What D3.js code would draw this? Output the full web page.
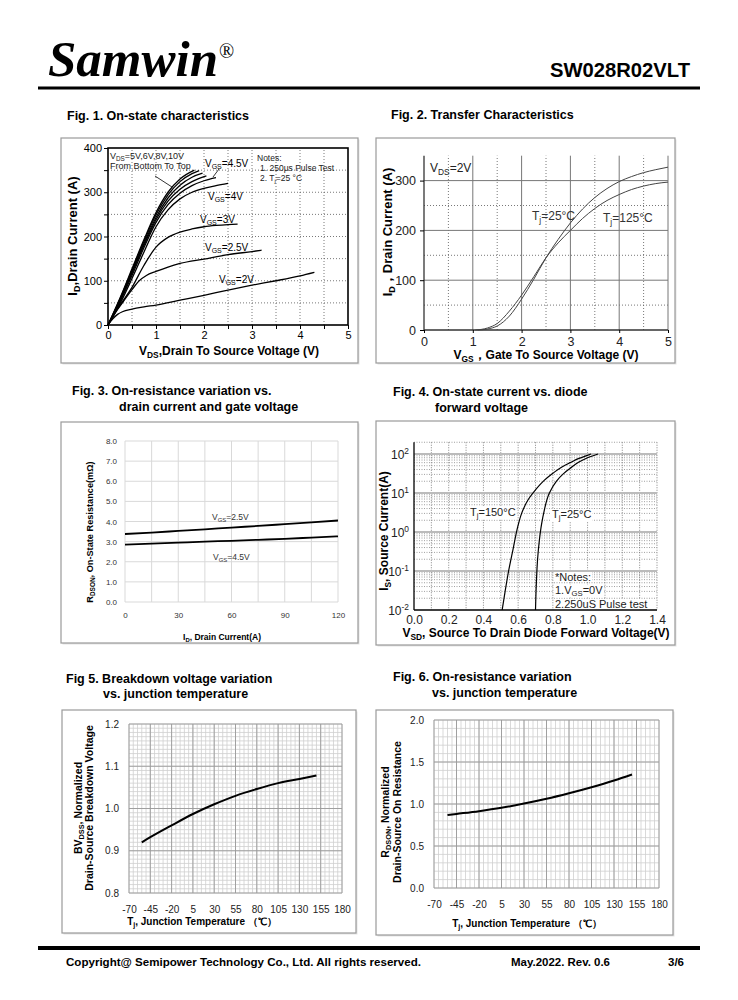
<!DOCTYPE html>
<html><head><meta charset="utf-8">
<script src="https://cdn.jsdelivr.net/npm/d3@7"></script>
<style>body{margin:0;background:#fff}svg{display:block;font-family:"Liberation Sans",Arial,sans-serif}</style>
</head><body><svg id="c" width="738" height="1000"></svg>
<script>
// ---------- DATA ----------
// Fig.1 On-state characteristics: [VDS (V), ID (A)]
const fig1Vgs2  = [[0,0],[0.1,14],[0.2,24],[0.3,30],[0.5,36],[0.75,41],[1,45],[1.5,56],[2,67],[2.5,79],[3,90],[3.5,100],[4,111],[4.3,119]];
const fig1Vgs25 = [[0,0],[0.1,18],[0.2,35],[0.35,58],[0.5,80],[0.65,100],[0.8,112],[1,121],[1.25,131],[1.5,139],[2,149],[2.5,159],[3,166],[3.2,169]];
const fig1Vgs3  = [[0,0],[0.1,20],[0.25,45],[0.5,85],[0.75,135],[1,176],[1.25,198],[1.5,210],[1.75,217],[2,222],[2.25,225],[2.5,227],[2.7,228]];
const fig1Vgs4  = [[0,0],[0.25,48],[0.5,105],[0.75,165],[1,222],[1.25,260],[1.5,285],[1.75,300],[2,309],[2.25,315],[2.5,320]];
const fig1Vgs45 = [[0,0],[0.25,52],[0.5,112],[0.75,175],[1,232],[1.25,272],[1.5,298],[1.75,315],[2,326],[2.25,333]];
const fig1Vgs5  = [[0,0],[0.25,55],[0.5,117],[0.75,180],[1,238],[1.25,280],[1.5,307],[1.75,324],[2.05,337]];
const fig1Vgs6  = [[0,0],[0.25,57],[0.5,120],[0.75,184],[1,243],[1.25,287],[1.5,316],[1.75,334],[1.97,343]];
const fig1Vgs8  = [[0,0],[0.25,59],[0.5,124],[0.75,189],[1,249],[1.25,294],[1.5,324],[1.75,342],[1.9,349]];
const fig1Vgs10 = [[0,0],[0.25,61],[0.5,127],[0.75,193],[1,254],[1.25,300],[1.5,330],[1.8,350]];
const fig1XTicks = [0,1,2,3,4,5];
const fig1YTicks = [0,100,200,300,400];

// Fig.2 Transfer characteristics: [VGS (V), ID (A)]
const fig2T25  = [[1.1,0],[1.3,2],[1.5,8],[1.75,28],[2,62],[2.25,102],[2.5,145],[2.75,182],[3,215],[3.25,243],[3.5,266],[3.75,284],[4,298],[4.25,308],[4.5,316],[4.75,322],[5,327]];
const fig2T125 = [[1.05,0],[1.3,4],[1.5,13],[1.75,38],[2,70],[2.25,107],[2.5,145],[2.75,175],[3,200],[3.25,224],[3.5,244],[3.75,260],[4,272],[4.25,282],[4.5,289],[4.75,294],[5,297]];
const fig2XTicks = [0,1,2,3,4,5];
const fig2YTicks = [0,100,200,300];

// Fig.3 On-resistance vs drain current
const fig3Id    = [0,15,30,45,60,75,90,105,120];
const fig3Vgs25 = [3.38,3.45,3.53,3.61,3.70,3.78,3.87,3.96,4.05];
const fig3Vgs45 = [2.85,2.90,2.95,3.00,3.04,3.09,3.14,3.20,3.26];
const fig3XTicks = [0,30,60,90,120];
const fig3YTicks = [0,1,2,3,4,5,6,7,8];

// Fig.4 Diode forward: [VSD (V), IS (A)]
const fig4T150 = [[0.508,0.01],[0.525,0.03],[0.545,0.1],[0.57,0.35],[0.60,1.5],[0.62,3],[0.66,7],[0.70,12],[0.75,21],[0.80,32],[0.85,46],[0.90,60],[0.95,77],[1.0,92],[1.02,100]];
const fig4T25  = [[0.700,0.01],[0.705,0.05],[0.712,0.2],[0.722,0.6],[0.735,1.6],[0.75,3.5],[0.78,10],[0.82,20],[0.86,31],[0.90,43],[0.95,62],[1.0,80],[1.06,100]];
const fig4XTicks = [0,0.2,0.4,0.6,0.8,1.0,1.2,1.4];
const fig4YTicks = [0.01,0.1,1,10,100];

// Fig.5 / Fig.6 vs junction temperature
const tempTicks = [-70,-45,-20,5,30,55,80,105,130,155,180];
const fig5Tj = [-55,-45,-20,5,30,55,80,105,130,150];
const fig5Bv = [0.920,0.932,0.960,0.987,1.010,1.030,1.046,1.060,1.070,1.078];
const fig5YTicks = [0.8,0.9,1.0,1.1,1.2];
const fig6Tj = [-55,-45,-20,5,30,55,80,105,130,150];
const fig6R  = [0.869,0.882,0.915,0.955,1.005,1.062,1.128,1.200,1.280,1.352];
const fig6YTicks = [0,0.5,1.0,1.5,2.0];

// ---------- HELPERS ----------
const svg = d3.select("#c");
function rich(t, s, fs){
  const parts = s.split(/(_\{[^}]*\}|\^\{[^}]*\})/).filter(p=>p);
  let off = 0;
  parts.forEach(p=>{
    let target=0, tx=p, small=false;
    if(p.startsWith("_{")){target=fs*0.22; tx=p.slice(2,-1); small=true;}
    else if(p.startsWith("^{")){target=-fs*0.4; tx=p.slice(2,-1); small=true;}
    const ts = t.append("tspan").attr("dy", target-off).text(tx);
    if(small) ts.attr("font-size", fs*0.7);
    off = target;
  });
}
function txt(g,x,y,s,fs,o={}){
  const t = g.append("text").attr("x",x).attr("y",y).attr("font-size",fs).attr("fill",o.fill||"#000");
  if(o.bold) t.attr("font-weight","bold");
  if(o.anchor) t.attr("text-anchor",o.anchor);
  if(o.rot) t.attr("transform",`rotate(-90,${x},${y})`);
  if(o.family) t.attr("font-family",o.family);
  if(o.style) t.attr("font-style",o.style);
  if(o.len) t.attr("textLength",o.len).attr("lengthAdjust","spacingAndGlyphs");
  if(o.plain) t.text(s); else rich(t,s,fs);
  return t;
}
function box(g,x,y,w,h){
  g.append("rect").attr("x",x+1.5).attr("y",y+1.5).attr("width",w).attr("height",h).attr("fill","#e4e4e4");
  g.append("rect").attr("x",x).attr("y",y).attr("width",w).attr("height",h).attr("fill","#fff").attr("stroke","#9a9a9a").attr("stroke-width",1.2);
}
function vlines(g,vals,x,y1,y2,stroke,w,dash){
  g.append("g").selectAll("line").data(vals).join("line")
   .attr("x1",d=>x(d)).attr("x2",d=>x(d)).attr("y1",y1).attr("y2",y2)
   .attr("stroke",stroke).attr("stroke-width",w).attr("stroke-dasharray",dash||null);
}
function hlines(g,vals,y,x1,x2,stroke,w,dash){
  g.append("g").selectAll("line").data(vals).join("line")
   .attr("y1",d=>y(d)).attr("y2",d=>y(d)).attr("x1",x1).attr("x2",x2)
   .attr("stroke",stroke).attr("stroke-width",w).attr("stroke-dasharray",dash||null);
}
function styleAxis(a,fs,color){
  a.attr("font-size",fs).attr("font-family",null);
  a.select(".domain").remove();
  a.selectAll(".tick text").attr("fill",color||"#000");
  a.selectAll(".tick line").attr("stroke","#000");
}
const lineGen = (x,y,curve)=>d3.line().x(d=>x(d[0])).y(d=>y(d[1])).curve(curve||d3.curveMonotoneX);

// ---------- HEADER / FOOTER ----------
txt(svg,48,76,"Samwin",50,{bold:true,style:"italic",family:"'Liberation Serif','Times New Roman',serif",plain:true,len:170});
txt(svg,219,58,"®",20,{family:"'Liberation Serif',serif",plain:true});
txt(svg,690,77,"SW028R02VLT",20,{bold:true,anchor:"end",plain:true,len:140});
svg.append("line").attr("x1",38).attr("x2",700).attr("y1",88).attr("y2",88).attr("stroke","#000").attr("stroke-width",3);
svg.append("line").attr("x1",38).attr("x2",700).attr("y1",948).attr("y2",948).attr("stroke","#000").attr("stroke-width",4);
txt(svg,66,966,"Copyright@ Semipower Technology Co., Ltd. All rights reserved.",11.5,{bold:true,plain:true,len:355});
txt(svg,511,966,"May.2022. Rev. 0.6",11,{bold:true,plain:true,len:99});
txt(svg,668,966,"3/6",11,{bold:true,plain:true,len:16});

// ---------- FIG 1 ----------
{
  const g = svg.append("g");
  txt(g,67,120,"Fig. 1. On-state characteristics",12.5,{bold:true,plain:true});
  box(g,61,138,297,225);
  const x = d3.scaleLinear().domain([0,5]).range([108,348]);
  const y = d3.scaleLinear().domain([0,400]).range([325,148]);
  vlines(g,d3.range(0.5,5,0.5),x,y(0),y(400),"#555",0.8,"1,2");
  hlines(g,d3.range(50,400,50),y,x(0),x(5),"#555",0.8,"1,2");
  g.append("rect").attr("x",x(0)).attr("y",y(400)).attr("width",x(5)-x(0)).attr("height",y(0)-y(400)).attr("fill","none").attr("stroke","#000").attr("stroke-width",1.6);
  g.append("g").attr("transform",`translate(0,${y(0)})`)
    .call(d3.axisBottom(x).tickValues(d3.range(0,5.01,0.5)).tickFormat(d=>fig1XTicks.includes(d)?d:"").tickSize(4).tickPadding(2))
    .call(a=>styleAxis(a,11));
  g.append("g").attr("transform",`translate(${x(0)},0)`)
    .call(d3.axisLeft(y).tickValues(d3.range(0,401,50)).tickFormat(d=>fig1YTicks.includes(d)?d:"").tickSize(4).tickPadding(2))
    .call(a=>styleAxis(a,11));
  const series=[fig1Vgs2,fig1Vgs25,fig1Vgs3,fig1Vgs4,fig1Vgs45,fig1Vgs5,fig1Vgs6,fig1Vgs8,fig1Vgs10];
  g.append("g").selectAll("path").data(series).join("path").attr("d",lineGen(x,y)).attr("fill","none").attr("stroke","#000").attr("stroke-width",1.3);
  txt(g,110,159,"V_{DS}=5V,6V,8V,10V",9,{fill:"#222"});
  txt(g,110,169,"From Bottom To Top",9,{fill:"#222",plain:true});
  g.append("line").attr("x1",155).attr("y1",176).attr("x2",172).attr("y2",187).attr("stroke","#000").attr("stroke-width",0.8);
  txt(g,205,167,"V_{GS}=4.5V",10);
  g.append("line").attr("x1",219).attr("y1",169).attr("x2",213).attr("y2",177).attr("stroke","#000").attr("stroke-width",0.8);
  txt(g,257,161,"Notes:",8.5,{plain:true,fill:"#222"});
  txt(g,260,171,"1. 250μs  Pulse Test",8.5,{plain:true,fill:"#222"});
  txt(g,260,181,"2. T_{j}=25 °C",8.5,{fill:"#222"});
  txt(g,208,200,"V_{GS}=4V",10);
  txt(g,200,223,"V_{GS}=3V",10);
  txt(g,205,251,"V_{GS}=2.5V",10);
  txt(g,219,283,"V_{GS}=2V",10);
  txt(g,229,355,"V_{DS},Drain To Source Voltage (V)",12,{bold:true,anchor:"middle"});
  txt(g,77,236,"I_{D},Drain Current (A)",13,{bold:true,anchor:"middle",rot:true});
}

// ---------- FIG 2 ----------
{
  const g = svg.append("g");
  txt(g,391,119,"Fig. 2. Transfer Characteristics",12.5,{bold:true,plain:true});
  box(g,376,138,299,225);
  const x = d3.scaleLinear().domain([0,5]).range([424,668]);
  const y = d3.scaleLinear().domain([0,350]).range([330,155.7]);
  vlines(g,d3.range(0.5,5,1),x,y(0),y(350),"#555",0.8,"1,2");
  hlines(g,[50,150,250],y,x(0),x(5),"#555",0.8,"1,2");
  vlines(g,[1,2,3,4,5],x,y(0),y(350),"#777",1);
  hlines(g,[100,200,300],y,x(0),x(5),"#777",1);
  g.append("line").attr("x1",x(0)).attr("x2",x(0)).attr("y1",y(0)).attr("y2",y(350)).attr("stroke","#333").attr("stroke-width",1.3);
  g.append("line").attr("x1",x(0)).attr("x2",x(5)).attr("y1",y(0)).attr("y2",y(0)).attr("stroke","#333").attr("stroke-width",1.3);
  g.append("g").attr("transform",`translate(0,${y(0)})`)
    .call(d3.axisBottom(x).tickValues(fig2XTicks).tickFormat(d3.format("d")).tickSize(3).tickPadding(4)).call(a=>styleAxis(a,12.5,"#222"));
  g.append("g").attr("transform",`translate(${x(0)},0)`)
    .call(d3.axisLeft(y).tickValues(fig2YTicks).tickFormat(d3.format("d")).tickSize(4).tickPadding(4)).call(a=>styleAxis(a,12.5,"#222"));
  g.append("g").selectAll("path").data([fig2T25,fig2T125]).join("path").attr("d",lineGen(x,y)).attr("fill","none").attr("stroke","#444").attr("stroke-width",1);
  txt(g,430,172,"V_{DS}=2V",12,{fill:"#222"});
  txt(g,532,220,"T_{j}=25°C",12,{fill:"#333"});
  txt(g,603,222,"T_{j}=125°C",12,{fill:"#333"});
  txt(g,546,359,"V_{GS}，Gate To Source Voltage (V)",12,{bold:true,anchor:"middle"});
  txt(g,392,232,"I_{D}，Drain Current (A)",13,{bold:true,anchor:"middle",rot:true});
}

// ---------- FIG 3 ----------
{
  const g = svg.append("g");
  txt(g,72,395,"Fig. 3. On-resistance variation vs.",12.5,{bold:true,plain:true});
  txt(g,119,411,"drain current and gate voltage",12.5,{bold:true,plain:true});
  box(g,61,422,297,221);
  const x = d3.scaleLinear().domain([0,120]).range([125,338]);
  const y = d3.scaleLinear().domain([0,8]).range([602,441]);
  vlines(g,d3.range(0,121,15),x,y(0),y(8),"#d9d9d9",1);
  hlines(g,d3.range(0,8.01,1),y,x(0),x(120),"#d9d9d9",1);
  g.append("g").attr("transform",`translate(0,${y(0)+6})`)
    .call(d3.axisBottom(x).tickValues(fig3XTicks).tickFormat(d3.format("d")).tickSize(0).tickPadding(4)).call(a=>styleAxis(a,8,"#333"));
  g.append("g").attr("transform",`translate(${x(0)-6},0)`)
    .call(d3.axisLeft(y).tickValues(fig3YTicks).tickFormat(d3.format(".1f")).tickSize(0).tickPadding(2)).call(a=>styleAxis(a,8,"#333"));
  const ln = d3.line().x((d,i)=>x(fig3Id[i])).y(d=>y(d)).curve(d3.curveMonotoneX);
  g.append("g").selectAll("path").data([fig3Vgs25,fig3Vgs45]).join("path").attr("d",ln).attr("fill","none").attr("stroke","#000").attr("stroke-width",1.8);
  txt(g,212,520,"V_{GS}=2.5V",8.5,{fill:"#333"});
  txt(g,213,560,"V_{GS}=4.5V",8.5,{fill:"#333"});
  txt(g,222,640,"I_{D}, Drain Current(A)",8.5,{bold:true,anchor:"middle"});
  txt(g,93,532,"R_{DSON}, On-State Resistance(mΩ)",9.2,{bold:true,anchor:"middle",rot:true});
}

// ---------- FIG 4 ----------
{
  const g = svg.append("g");
  txt(g,393,396,"Fig. 4. On-state current vs. diode",12.5,{bold:true,plain:true});
  txt(g,435,412,"forward voltage",12.5,{bold:true,plain:true});
  box(g,376,421,299,224);
  const x = d3.scaleLinear().domain([0,1.4]).range([414,657]);
  const y = d3.scaleLog().domain([0.01,100]).range([610,454]);
  const top = y(200);
  const minors=[];
  [0.01,0.1,1,10,100].forEach(p=>{for(let k=2;k<=9;k++){ if(p*k<=200) minors.push(p*k);} });
  hlines(g,minors,y,x(0),x(1.4),"#777",0.7,"1,1.5");
  vlines(g,d3.range(0.1,1.41,0.1),x,top,y(0.01),"#666",0.8,"1,1.5");
  hlines(g,[0.1,1,10,100],y,x(0),x(1.4),"#bbb",2.2);
  g.append("line").attr("x1",x(0)).attr("x2",x(0)).attr("y1",top).attr("y2",y(0.01)).attr("stroke","#000").attr("stroke-width",1.3);
  g.append("line").attr("x1",x(0)).attr("x2",x(1.4)).attr("y1",y(0.01)).attr("y2",y(0.01)).attr("stroke","#000").attr("stroke-width",1.3);
  g.append("g").attr("transform",`translate(0,${y(0.01)})`)
    .call(d3.axisBottom(x).tickValues(fig4XTicks).tickFormat(d3.format(".1f")).tickSize(0).tickPadding(5)).call(a=>styleAxis(a,12,"#222"));
  const ya = g.append("g");
  ya.selectAll("text").data(fig4YTicks).join("text")
    .attr("x",x(0)-5).attr("y",d=>y(d)+5).attr("text-anchor","end").attr("font-size",12).attr("fill","#222")
    .each(function(d){ rich(d3.select(this),"10^{"+Math.round(Math.log10(d))+"}",12); });
  g.append("g").selectAll("path").data([fig4T150,fig4T25]).join("path").attr("d",lineGen(x,y,d3.curveMonotoneY)).attr("fill","none").attr("stroke","#000").attr("stroke-width",1.2);
  const labs=[[470,516,"T_{j}=150°C"],[552,518,"T_{j}=25°C"],[555,581,"*Notes:"],[555,594,"1.V_{GS}=0V"],[555,608,"2.250uS Pulse test"]];
  labs.forEach(l=>{
    const t=txt(g,l[0],l[1],l[2],11,{fill:"#222"});
    const b=t.node().getBBox();
    g.insert("rect",()=>t.node()).attr("x",b.x-1).attr("y",b.y+1).attr("width",b.width+2).attr("height",b.height-2).attr("fill","#fff");
  });
  txt(g,536,637,"V_{SD}, Source To Drain Diode Forward Voltage(V)",12,{bold:true,anchor:"middle"});
  txt(g,388,531,"I_{S}, Source Current(A)",12,{bold:true,anchor:"middle",rot:true});
}

// ---------- FIG 5 / FIG 6 ----------
function tempPanel(g,xr,yr,ydom,yMinorStep,yMajor,ts,vals){
  const x = d3.scaleLinear().domain([-70,180]).range(xr);
  const y = d3.scaleLinear().domain(ydom).range(yr);
  const ym = d3.range(ydom[0],ydom[1]+1e-9,yMinorStep);
  vlines(g,d3.range(-70,181,5),x,y(ydom[0]),y(ydom[1]),"#cfcfcf",0.8);
  hlines(g,ym,y,x(-70),x(180),"#cfcfcf",0.8);
  vlines(g,tempTicks,x,y(ydom[0]),y(ydom[1]),"#9a9a9a",0.9);
  hlines(g,yMajor,y,x(-70),x(180),"#9a9a9a",0.9);
  g.append("g").attr("transform",`translate(0,${y(ydom[0])+4})`)
    .call(d3.axisBottom(x).tickValues(tempTicks).tickFormat(d=>String(d)).tickSize(0).tickPadding(9)).call(a=>styleAxis(a,10,"#222"));
  g.append("g").attr("transform",`translate(${x(-70)-6},0)`)
    .call(d3.axisLeft(y).tickValues(yMajor).tickFormat(d3.format(".1f")).tickSize(0).tickPadding(4)).call(a=>styleAxis(a,10,"#222"));
  const ln = d3.line().x((d,i)=>x(ts[i])).y(d=>y(d)).curve(d3.curveMonotoneX);
  g.append("path").datum(vals).attr("d",ln).attr("fill","none").attr("stroke","#000").attr("stroke-width",2);
}
{
  const g = svg.append("g");
  txt(g,66,683,"Fig 5. Breakdown voltage variation",12.5,{bold:true,plain:true});
  txt(g,103,698,"vs. junction temperature",12.5,{bold:true,plain:true});
  box(g,62,710,294,223);
  tempPanel(g,[129,342],[893,724],[0.8,1.2],0.01,fig5YTicks,fig5Tj,fig5Bv);
  txt(g,202,925,"T_{j}, Junction Temperature （℃）",10,{bold:true,anchor:"middle"});
  txt(g,82,808,"BV_{DSS}, Normalized",10.5,{bold:true,anchor:"middle",rot:true});
  txt(g,93,808,"Drain-Source Breakdown Voltage",10.5,{bold:true,anchor:"middle",rot:true});
}
{
  const g = svg.append("g");
  txt(g,393,681,"Fig. 6. On-resistance variation",12.5,{bold:true,plain:true});
  txt(g,432,697,"vs. junction temperature",12.5,{bold:true,plain:true});
  box(g,376,710,297,225);
  tempPanel(g,[434,659],[888,720],[0,2],0.1,fig6YTicks,fig6Tj,fig6R);
  txt(g,527,927,"T_{j}, Junction Temperature （℃）",10,{bold:true,anchor:"middle"});
  txt(g,389,812,"R_{DSON}, Normalized",10.5,{bold:true,anchor:"middle",rot:true});
  txt(g,401,812,"Drain-Source On Resistance",10.5,{bold:true,anchor:"middle",rot:true});
}
</script></body></html>
